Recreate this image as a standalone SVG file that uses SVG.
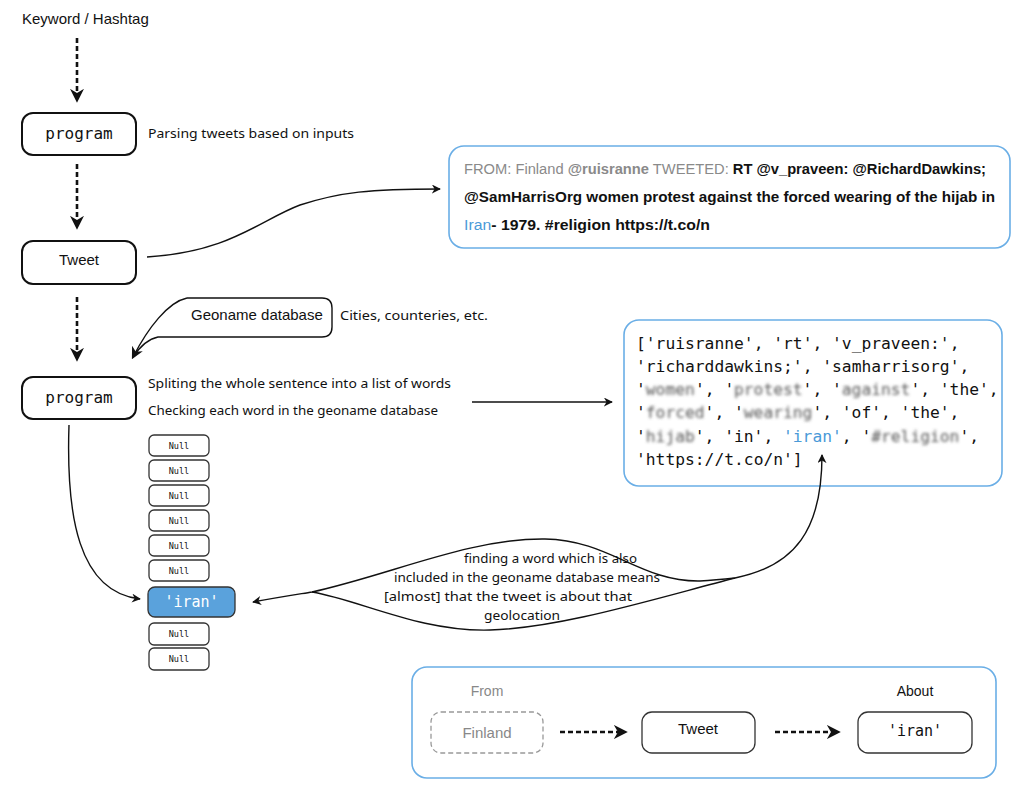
<svg xmlns="http://www.w3.org/2000/svg" width="1024" height="799" viewBox="0 0 1024 799">
<style>
.box{fill:#fff;stroke:#111;stroke-width:2}
.thin{fill:#fff;stroke:#333;stroke-width:1.3}
.blue{fill:#fff;stroke:#6aaee6;stroke-width:1.6}
.sans{font-family:"Liberation Sans",Arial,sans-serif}
.mono{font-family:"DejaVu Sans Mono","Liberation Mono",monospace}
.hand{font-family:"Noto Sans","Liberation Sans",sans-serif;font-size:13px;fill:#111}
.dash{fill:none;stroke:#111;stroke-width:2.6;stroke-dasharray:5 3}
.line{fill:none;stroke:#111;stroke-width:1.4}
.blur{fill:#555;filter:url(#bl)}
</style>
<defs>
<filter id="bl" x="-20%" y="-50%" width="140%" height="200%"><feGaussianBlur stdDeviation="1.8"/></filter>
<marker id="big" viewBox="0 0 10 10" refX="3" refY="5" markerUnits="userSpaceOnUse" markerWidth="14" markerHeight="14" orient="auto"><path d="M0,0 L10,5 L0,10 L3,5 Z" fill="#111"/></marker>
<marker id="sm" viewBox="0 0 10 10" refX="9" refY="5" markerUnits="userSpaceOnUse" markerWidth="9" markerHeight="9" orient="auto-start-reverse"><path d="M0,0 L10,5 L0,10 L3,5 Z" fill="#111"/></marker>
<marker id="md" viewBox="0 0 10 10" refX="8" refY="5" markerUnits="userSpaceOnUse" markerWidth="12" markerHeight="12" orient="auto"><path d="M0,0 L10,5 L0,10 L3,5 Z" fill="#111"/></marker>
</defs>

<g id="keyword"><text x="22" y="24" class="sans" font-size="15" fill="#111">Keyword / Hashtag</text></g>

<g id="program1">
<rect x="22" y="113" width="114" height="42" rx="11" class="box"/>
<text x="79" y="139" class="mono" font-size="16" text-anchor="middle" fill="#111">program</text>
<text x="148" y="138" class="hand" textLength="206" lengthAdjust="spacingAndGlyphs">Parsing tweets based on  inputs</text>
</g>

<g id="tweet1">
<rect x="22" y="241" width="114" height="43" rx="11" class="box"/>
<text x="79" y="265" class="sans" font-size="15" text-anchor="middle" fill="#111">Tweet</text>
</g>

<g id="tweetText">
<rect x="449" y="146" width="561" height="102" rx="15" class="blue"/>
<text x="464" y="174" class="sans" font-size="14" textLength="522" lengthAdjust="spacingAndGlyphs"><tspan fill="#8a8a8a">FROM: Finland </tspan><tspan fill="#8a8a8a" font-weight="bold">@ruisranne</tspan><tspan fill="#8a8a8a"> TWEETED: </tspan><tspan fill="#111" font-weight="bold">RT @v_praveen: @RichardDawkins;</tspan></text>
<text x="464" y="202" class="sans" font-size="14" font-weight="bold" fill="#111" textLength="531" lengthAdjust="spacingAndGlyphs">@SamHarrisOrg women protest against the forced wearing of the hijab in</text>
<text x="464" y="230" class="sans" font-size="14" font-weight="bold" fill="#111" textLength="246" lengthAdjust="spacingAndGlyphs"><tspan fill="#4a9ad8" font-weight="normal">Iran</tspan>- 1979. #religion https://t.co/n</text>
</g>

<g id="geoname">
<path d="M187,298 L322,298 Q332,298 332,308 L332,327 Q332,337 322,337 L158,337 C148,339 139,348 133,357" class="line" fill="#fff"/>
<path d="M187,298 C168,302 148,328 133,357" class="line" marker-end="url(#md)"/>
<text x="191" y="320" class="sans" font-size="15" fill="#111">Geoname database</text>
<text x="340" y="320" class="hand" textLength="148" lengthAdjust="spacingAndGlyphs">Cities, counteries, etc.</text>
</g>

<g id="program2">
<rect x="22" y="377" width="114" height="42" rx="11" class="box"/>
<text x="79" y="403" class="mono" font-size="16" text-anchor="middle" fill="#111">program</text>
<text x="148" y="388" class="hand" textLength="303" lengthAdjust="spacingAndGlyphs">Spliting the whole sentence into a list of words</text>
<text x="148" y="415" class="hand" textLength="290" lengthAdjust="spacingAndGlyphs">Checking each word in the geoname database</text>
</g>

<g id="wordList">
<rect x="624" y="320" width="378" height="166" rx="15" class="blue"/>
<g class="mono" font-size="16.3" fill="#111">
<text x="636" y="349">['ruisranne', 'rt', 'v_praveen:',</text>
<text x="636" y="372">'richarddawkins;', 'samharrisorg',</text>
<text x="636" y="395">'</text>
<text x="645.8" y="395" class="blur">women</text>
<text x="695" y="395">', '</text>
<text x="734" y="395" class="blur">protest</text>
<text x="802.6" y="395">', '</text>
<text x="841.8" y="395" class="blur">against</text>
<text x="910.4" y="395">', 'the',</text>
<text x="636" y="418">'</text>
<text x="645.8" y="418" class="blur">forced</text>
<text x="704.6" y="418">', '</text>
<text x="743.8" y="418" class="blur">wearing</text>
<text x="812.4" y="418">', 'of', 'the',</text>
<text x="636" y="442">'</text>
<text x="645.8" y="442" class="blur">hijab</text>
<text x="694.8" y="442">', 'in', </text>
<text x="783" y="442" fill="#4a9ad8">'iran'</text>
<text x="841.8" y="442">, '</text>
<text x="871.2" y="442" class="blur">#religion</text>
<text x="959.4" y="442">',</text>
<text x="636" y="465">'https://t.co/n']</text>
</g>
</g>

<g id="nullStack" class="mono" font-size="8.5" fill="#111" text-anchor="middle">
<rect x="149" y="435" width="60" height="21" rx="5" class="thin"/><text x="179" y="449">Null</text>
<rect x="149" y="460" width="60" height="21" rx="5" class="thin"/><text x="179" y="474">Null</text>
<rect x="149" y="485" width="60" height="21" rx="5" class="thin"/><text x="179" y="499">Null</text>
<rect x="149" y="510" width="60" height="21" rx="5" class="thin"/><text x="179" y="524">Null</text>
<rect x="149" y="535" width="60" height="21" rx="5" class="thin"/><text x="179" y="549">Null</text>
<rect x="149" y="560" width="60" height="21" rx="5" class="thin"/><text x="179" y="574">Null</text>
<rect x="149" y="623" width="60" height="22" rx="5" class="thin"/><text x="179" y="637">Null</text>
<rect x="149" y="648" width="60" height="22" rx="5" class="thin"/><text x="179" y="662">Null</text>
</g>
<g id="iranItem">
<rect x="148" y="587" width="87" height="30" rx="7" fill="#5aa2dc" stroke="#333" stroke-width="1.3"/>
<text x="191.5" y="607" class="mono" font-size="15" fill="#fff" text-anchor="middle">'iran'</text>
</g>

<g id="bubbleText" class="hand" font-size="13.5">
<text x="464" y="563" textLength="173" lengthAdjust="spacingAndGlyphs">finding a word which is also</text>
<text x="394" y="582" textLength="266" lengthAdjust="spacingAndGlyphs">included in the geoname database means</text>
<text x="384" y="601" textLength="248" lengthAdjust="spacingAndGlyphs">[almost] that the tweet is about that</text>
<text x="484" y="620" textLength="76" lengthAdjust="spacingAndGlyphs">geolocation</text>
</g>

<g id="result">
<rect x="412" y="667" width="584" height="111" rx="15" class="blue"/>
<text x="487" y="696" class="sans" font-size="14" fill="#888" text-anchor="middle">From</text>
<text x="915" y="696" class="sans" font-size="14" fill="#111" text-anchor="middle">About</text>
<rect x="431" y="712" width="112" height="41" rx="10" fill="#fff" stroke="#999" stroke-width="1.3" stroke-dasharray="5 3"/>
<text x="487" y="738" class="sans" font-size="15" fill="#888" text-anchor="middle">Finland</text>
<rect x="642" y="712" width="113" height="41" rx="10" class="thin"/>
<text x="698" y="734" class="sans" font-size="15" fill="#111" text-anchor="middle">Tweet</text>
<rect x="858" y="712" width="114" height="41" rx="10" class="thin"/>
<text x="915" y="736" class="mono" font-size="15" fill="#111" text-anchor="middle">'iran'</text>
</g>

<g id="connectors">
<line x1="77" y1="38" x2="77" y2="93" class="dash" marker-end="url(#big)"/>
<line x1="77" y1="164" x2="77" y2="220" class="dash" marker-end="url(#big)"/>
<line x1="77" y1="297" x2="77" y2="352" class="dash" marker-end="url(#big)"/>
<path d="M147,257 C230,252 260,220 300,205 C340,192 370,189 440,189" class="line" marker-end="url(#sm)"/>
<line x1="472" y1="402" x2="612" y2="402" class="line" marker-end="url(#sm)"/>
<path d="M69,425 C66,515 78,592 140,599" class="line" marker-end="url(#sm)"/>
<path d="M253,602 C280,597 300,594 312,592 C390,575 470,538 545,539 C610,540 640,582 700,581 C715,580 725,579 735,578 C795,566 822,530 822,455" class="line" marker-start="url(#sm)" marker-end="url(#sm)"/>
<path d="M312,592 C360,600 420,632 490,630 C560,628 650,600 735,578" class="line"/>
<line x1="560" y1="732" x2="618" y2="732" class="dash" marker-end="url(#big)"/>
<line x1="775" y1="732" x2="831" y2="732" class="dash" marker-end="url(#big)"/>
</g>
</svg>
